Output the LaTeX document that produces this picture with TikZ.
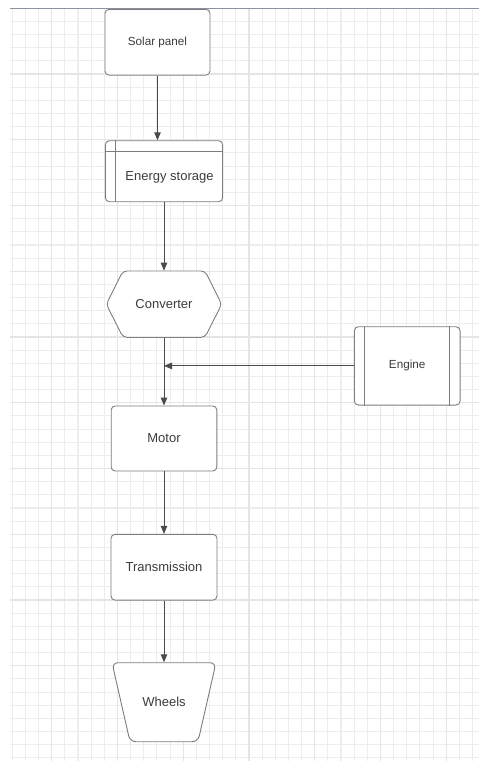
\documentclass[tikz,border=0pt]{standalone}
\usepackage{fontspec}
\setmainfont{Liberation Sans}
\usetikzlibrary{arrows.meta}
\definecolor{gridminor}{RGB}{237,237,237}
\definecolor{gridmajor}{RGB}{229,229,229}
\definecolor{pageedge}{RGB}{140,148,160}
\definecolor{boxgray}{RGB}{125,125,125}
\definecolor{linegray}{RGB}{75,75,75}
\definecolor{textgray}{RGB}{60,60,60}

\begin{document}
\begin{tikzpicture}[x=1pt, y=-1pt,
    box/.style={draw=boxgray, line width=0.9pt, fill=white, rounded corners=4pt},
    boxline/.style={draw=boxgray, line width=0.9pt},
    txt/.style={text=textgray, font=\fontsize{13}{15}\selectfont},
    smalltxt/.style={text=textgray, font=\fontsize{11.7}{14}\selectfont},
    flow/.style={-{Triangle[length=8pt,width=6.5pt]}, draw=linegray, line width=1pt}]

    \useasboundingbox (0,0) rectangle (479,761);

    % Grid
    \foreach \gx in {0,...,35}
        \draw[gridminor, line width=1.1pt] (12.25+13.15*\gx, 8.3) -- (12.25+13.15*\gx, 761);
    \foreach \gy in {1,...,57}
        \draw[gridminor, line width=1.1pt] (10, 8.25+13.15*\gy) -- (479, 8.25+13.15*\gy);
    \foreach \gx in {0,...,6}
        \draw[gridmajor, line width=1.1pt] (51.7+65.75*\gx, 8.3) -- (51.7+65.75*\gx, 761);
    \foreach \gy in {1,...,10}
        \draw[gridmajor, line width=1.1pt] (10, 8.25+65.75*\gy) -- (479, 8.25+65.75*\gy);
    \draw[pageedge, line width=1.2pt] (10,8.3) -- (479,8.3);

    % Solar panel
    \node[box, smalltxt, minimum width=105pt, minimum height=65.7pt] (sp) at (157.5,42.2) {Solar panel};

    % Energy storage
    \node[box, minimum width=117.3pt, minimum height=61pt,
        label={[txt, xshift=5.5pt, yshift=-6pt]center:Energy storage}] (es) at (164,171.2) {};
    \draw[boxline] ([xshift=11pt]es.north west) -- ([xshift=11pt]es.south west);
    \draw[boxline] ([yshift=-11.6pt]es.north west) -- ([yshift=-11.6pt]es.north east);

    % Converter
    \draw[box] (164,271) -- (205,271) -- (221.7,304.2) -- (205,337.3) -- (123,337.3)
        -- (106.3,304.2) -- (123,271) -- cycle
        (164,304.2) node[txt, minimum width=115.4pt, minimum height=66.3pt] (cv) {Converter};

    % Engine
    \node[box, smalltxt, minimum width=105.7pt, minimum height=78.3pt] (en) at (407.2,365.9) {Engine};
    \draw[boxline] ([xshift=10.7pt]en.north west) -- ([xshift=10.7pt]en.south west);
    \draw[boxline] ([xshift=-10.7pt]en.north east) -- ([xshift=-10.7pt]en.south east);

    % Motor
    \node[box, txt, minimum width=105.6pt, minimum height=65pt] (mo) at (164,438.5) {Motor};

    % Transmission
    \node[box, txt, minimum width=106pt, minimum height=65.7pt] (tr) at (164,567.2) {Transmission};

    % Wheels
    \draw[box, rounded corners=6pt] (164,662.7) -- (216,662.7) -- (198,741.7) -- (130,741.7)
        -- (112,662.7) -- cycle
        (164,702.2) node[txt, minimum width=104pt, minimum height=79pt] (wh) {Wheels};

    % Arrows
    \coordinate (join) at (cv.south |- en.west);
    \draw[flow] (sp.south) -- (sp.south |- es.north);
    \draw[flow] (es.south) -- (cv.north);
    \draw[flow] (cv.south) -- (mo.north);
    \draw[flow] (en.west) -- (join);
    \draw[flow] (mo.south) -- (tr.north);
    \draw[flow] (tr.south) -- (wh.north);
\end{tikzpicture}
\end{document}
